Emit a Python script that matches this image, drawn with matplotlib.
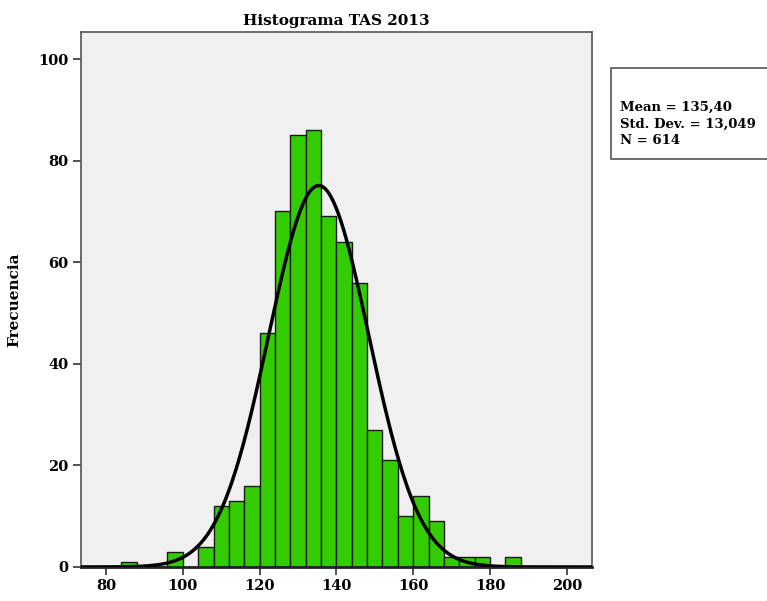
import numpy as np
import matplotlib.pyplot as plt

# histogram bins (left edges, width 4) and counts
bin_left = [84, 96, 104, 108, 112, 116, 120, 124, 128, 132, 136, 140, 144,
            148, 152, 156, 160, 164, 168, 172, 176, 184]
counts = [1, 3, 4, 12, 13, 16, 46, 70, 85, 86, 69, 64, 56,
          27, 21, 10, 14, 9, 2, 2, 2, 2]
bin_width = 4
mean, sd, n = 135.40, 13.049, 614

xticks = [80, 100, 120, 140, 160, 180, 200]
yticks = [0, 20, 40, 60, 80, 100]

plt.rcParams['font.family'] = ['DejaVu Serif']
plt.rcParams['font.weight'] = 'bold'

fig = plt.figure(figsize=(7.67, 6.01), dpi=100)
ax = fig.add_axes([0.1056, 0.0566, 0.666, 0.890])
ax.set_facecolor('#f0f0f0')

ax.bar(bin_left, counts, width=bin_width, align='edge',
       color='#33cc00', edgecolor='#1a1a1a', linewidth=1.0, zorder=2)

# fitted normal curve from the reported mean / sd
xs = np.linspace(73, 207, 400)
ys = n * bin_width / (sd * np.sqrt(2 * np.pi)) * np.exp(-0.5 * ((xs - mean) / sd) ** 2)
ax.plot(xs, ys, color='black', linewidth=2.5, zorder=3)

ax.set_xlim(73.5, 206.5)
ax.set_ylim(0, 105.3)
ax.set_xticks(xticks)
ax.set_yticks(yticks)
ax.tick_params(direction='out', length=6, width=1.2, color='#333333',
               labelsize=10.5, pad=3)
for lab in ax.get_xticklabels() + ax.get_yticklabels():
    lab.set_fontweight('bold')
for s in ax.spines.values():
    s.set_color('#555555')
    s.set_linewidth(1.2)
ax.spines['bottom'].set_color('#222222')
ax.spines['bottom'].set_linewidth(2)

ax.set_title('Histograma TAS 2013', fontsize=11, fontweight='bold', pad=5)
ax.set_ylabel('Frecuencia', fontsize=11, fontweight='bold', labelpad=12)

# stats box
fig.patches.append(plt.Rectangle((611 / 767, 1 - 159 / 601), 170 / 767, 91 / 601,
                                 transform=fig.transFigure, facecolor='white',
                                 edgecolor='#555555', linewidth=1.2))
fig.text(620 / 767, 1 - 124 / 601,
         'Mean = 135,40\nStd. Dev. = 13,049\nN = 614',
         fontsize=9.5, fontweight='bold', va='center', ha='left',
         linespacing=1.35)

fig.savefig('out.png', dpi=100)
